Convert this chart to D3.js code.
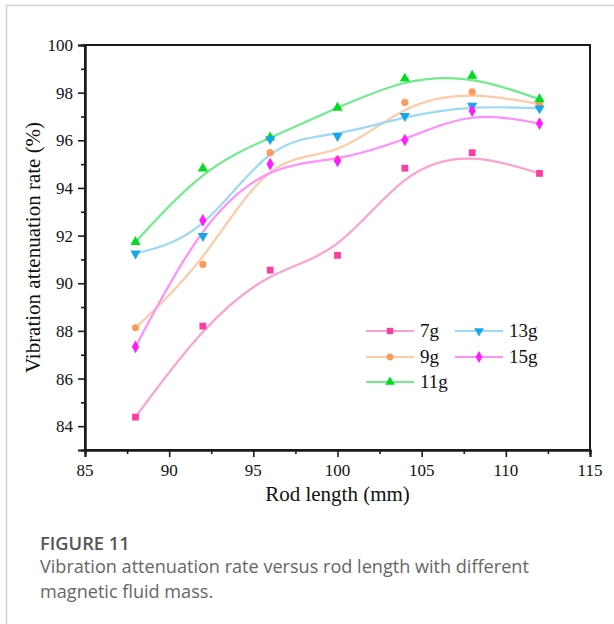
<!DOCTYPE html>
<html>
<head>
<meta charset="utf-8">
<script src="https://cdn.jsdelivr.net/npm/d3@7"></script>
<style>
  html, body { margin: 0; padding: 0; background: #fff; }
  svg { display: block; }
</style>
</head>
<body>
<svg id="chart" width="614" height="624"></svg>
<script>
// ---- data ----
const rodLengths = [88, 92, 96, 100, 104, 108, 112];
const seriesNames = ["7g", "9g", "11g", "13g", "15g"];
const values7g  = [84.38, 88.20, 90.55, 91.17, 94.83, 95.48, 94.61];
const values9g  = [88.13, 90.79, 95.48, 95.20, 97.59, 98.03, 97.52];
const values11g = [91.73, 94.82, 96.12, 97.37, 98.59, 98.71, 97.72];
const values13g = [91.25, 91.98, 96.05, 96.18, 97.02, 97.45, 97.34];
const values15g = [87.33, 92.64, 95.00, 95.13, 96.01, 97.24, 96.70];
const xTicks = [85, 90, 95, 100, 105, 110, 115];
const yTicks = [84, 86, 88, 90, 92, 94, 96, 98, 100];

const series = [
  { name: seriesNames[0], values: values7g,  line: "#ffa0cf", mark: "#ff3d9e", symbol: d3.symbolSquare },
  { name: seriesNames[1], values: values9g,  line: "#ffcaa6", mark: "#ff9a5c", symbol: d3.symbolCircle },
  { name: seriesNames[2], values: values11g, line: "#70ec8c", mark: "#00dc1e", symbol: d3.symbolTriangle },
  { name: seriesNames[3], values: values13g, line: "#9cd9f7", mark: "#18a6ee", symbol: "down" },
  { name: seriesNames[4], values: values15g, line: "#ff8eff", mark: "#ff1cff", symbol: d3.symbolDiamond }
];

const svg = d3.select("#chart");

// card border
svg.append("line").attr("x1", 6.5).attr("x2", 614).attr("y1", 5.5).attr("y2", 5.5)
  .attr("stroke", "#d2d2d2").attr("stroke-width", 1.5);
svg.append("line").attr("x1", 6.5).attr("x2", 6.5).attr("y1", 5).attr("y2", 624)
  .attr("stroke", "#d2d2d2").attr("stroke-width", 1.5);

const pLeft = 85, pRight = 590, pTop = 45, pBottom = 450;
const x = d3.scaleLinear().domain([85, 115]).range([pLeft, pRight]);
const y = d3.scaleLinear().domain([83, 100]).range([pBottom, pTop]);

const serif = "'Liberation Serif', 'Times New Roman', Times, serif";

// frame
svg.append("rect").attr("x", pLeft).attr("y", pTop).attr("width", pRight - pLeft).attr("height", pBottom - pTop)
  .attr("fill", "none").attr("stroke", "#1a1a1a").attr("stroke-width", 2);

// axes (ticks only; labels drawn below)
const xAxis = svg.append("g").attr("transform", `translate(0,${pBottom})`)
  .call(d3.axisBottom(x).tickValues(xTicks).tickSize(7).tickFormat(""));
const xMinor = svg.append("g").attr("transform", `translate(0,${pBottom})`)
  .call(d3.axisBottom(x).tickValues(d3.range(87.5, 115, 5)).tickSize(4).tickFormat(""));
const yAxis = svg.append("g").attr("transform", `translate(${pLeft},0)`)
  .call(d3.axisLeft(y).tickValues(yTicks).tickSize(7).tickFormat(""));
const yMinor = svg.append("g").attr("transform", `translate(${pLeft},0)`)
  .call(d3.axisLeft(y).tickValues(d3.range(85, 100, 2)).tickSize(4).tickFormat(""));

[xAxis, xMinor, yAxis, yMinor].forEach(g => {
  g.select(".domain").attr("stroke", "#1a1a1a").attr("stroke-width", 2);
  g.selectAll(".tick line").attr("stroke", "#1a1a1a").attr("stroke-width", 1.6);
});

// tick labels
svg.append("g").selectAll("text").data(xTicks).join("text")
  .attr("x", d => x(d)).attr("y", 476)
  .attr("text-anchor", "middle")
  .attr("font-family", serif).attr("font-size", 17).attr("fill", "#111")
  .text(d => d);
svg.append("g").selectAll("text").data(yTicks).join("text")
  .attr("x", 73).attr("y", d => y(d) + 6)
  .attr("text-anchor", "end")
  .attr("font-family", serif).attr("font-size", 17).attr("fill", "#111")
  .text(d => d);

// axis titles
svg.append("text").attr("x", (pLeft + pRight) / 2).attr("y", 501)
  .attr("text-anchor", "middle").attr("font-family", serif).attr("font-size", 21).attr("fill", "#111")
  .text("Rod length (mm)");
svg.append("text").attr("transform", `translate(40,${(pTop + pBottom) / 2}) rotate(-90)`)
  .attr("text-anchor", "middle").attr("font-family", serif).attr("font-size", 21).attr("fill", "#111")
  .text("Vibration attenuation rate (%)");

// lines
const line = d3.line().x((d, i) => x(rodLengths[i])).y(d => y(d)).curve(d3.curveBasis);
function symbolPath(s, size) {
  if (s === "down") return d3.symbol(d3.symbolTriangle, size)();
  return d3.symbol(s, size)();
}
series.forEach(s => {
  svg.append("path").datum(s.values).attr("d", line)
    .attr("fill", "none").attr("stroke", s.line).attr("stroke-width", 2.2);
});
series.forEach(s => {
  svg.append("g").selectAll("path").data(s.values).join("path")
    .attr("d", symbolPath(s.symbol, s.symbol === d3.symbolCircle ? 40 : 46))
    .attr("transform", (d, i) => `translate(${x(rodLengths[i])},${y(d)})` + (s.symbol === "down" ? " rotate(180)" : ""))
    .attr("fill", s.mark);
});

// legend
const legendItems = [
  { s: series[0], lx: 366, ty: 331 },
  { s: series[1], lx: 366, ty: 357 },
  { s: series[2], lx: 366, ty: 382 },
  { s: series[3], lx: 455, ty: 331 },
  { s: series[4], lx: 455, ty: 357 }
];
legendItems.forEach(it => {
  const g = svg.append("g");
  g.append("line").attr("x1", it.lx).attr("x2", it.lx + 48).attr("y1", it.ty).attr("y2", it.ty)
    .attr("stroke", it.s.line).attr("stroke-width", 2);
  g.append("path").attr("d", symbolPath(it.s.symbol, it.s.symbol === d3.symbolCircle ? 36 : 40))
    .attr("transform", `translate(${it.lx + 24},${it.ty})` + (it.s.symbol === "down" ? " rotate(180)" : ""))
    .attr("fill", it.s.mark);
  g.append("text").attr("x", it.lx + 54).attr("y", it.ty + 6)
    .attr("font-family", serif).attr("font-size", 19).attr("fill", "#111").text(it.s.name);
});

// caption
const sans = "'Open Sans', 'Noto Sans', sans-serif";
svg.append("text").attr("x", 40).attr("y", 550).attr("font-family", sans).attr("font-size", 18.3)
  .attr("font-weight", 600).attr("fill", "#555").text("FIGURE 11");
svg.append("text").attr("x", 40).attr("y", 573).attr("font-family", sans).attr("font-size", 18.1)
  .attr("fill", "#666").text("Vibration attenuation rate versus rod length with different");
svg.append("text").attr("x", 40).attr("y", 598).attr("font-family", sans).attr("font-size", 18.1)
  .attr("fill", "#666").text("magnetic fluid mass.");
</script>
</body>
</html>
